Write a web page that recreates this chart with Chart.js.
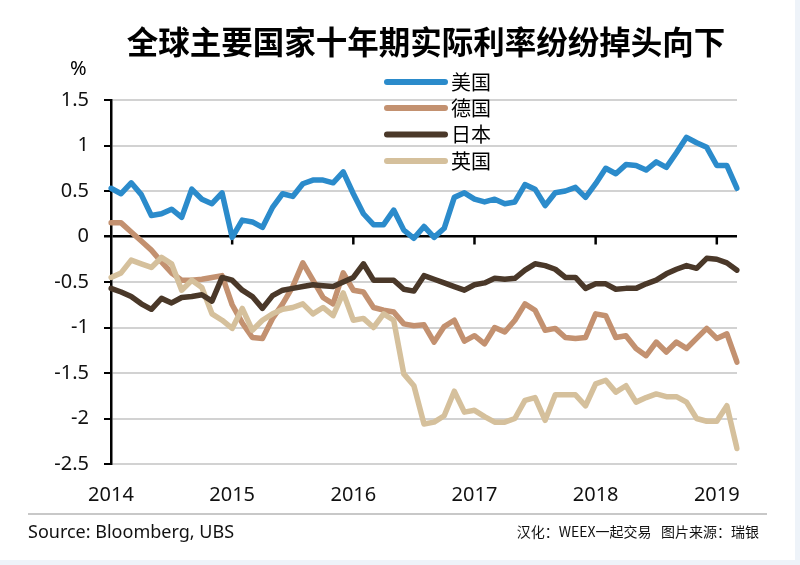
<!DOCTYPE html>
<html>
<head>
<meta charset="utf-8">
<script src="https://cdn.jsdelivr.net/npm/chart.js@4.4.1/dist/chart.umd.min.js"></script>
<style>
  html, body { margin: 0; padding: 0; background: #fff; }
  #wrap { width: 800px; height: 565px; }
</style>
</head>
<body>
<div id="wrap"><canvas id="chart" width="800" height="565"></canvas></div>
<script>
// monthly points, Jan 2014 .. Mar 2019
const years = ["2014", "2015", "2016", "2017", "2018", "2019"];
const seriesNames = ["美国", "德国", "日本", "英国"];

const usa = [0.53, 0.47, 0.59, 0.46, 0.23, 0.25, 0.30, 0.21, 0.52, 0.41, 0.36, 0.48,
  -0.01, 0.18, 0.16, 0.10, 0.32, 0.47, 0.44, 0.58, 0.62, 0.62, 0.59, 0.71,
  0.47, 0.25, 0.13, 0.13, 0.29, 0.07, -0.02, 0.11, -0.01, 0.09, 0.43, 0.48,
  0.41, 0.38, 0.41, 0.36, 0.38, 0.57, 0.52, 0.34, 0.48, 0.50, 0.54, 0.43,
  0.58, 0.75, 0.69, 0.79, 0.78, 0.73, 0.82, 0.76, 0.92, 1.09, 1.03, 0.98,
  0.78, 0.78, 0.53];

const germany = [0.15, 0.15, 0.05, -0.05, -0.15, -0.28, -0.40, -0.48, -0.48, -0.47, -0.45, -0.43,
  -0.75, -0.95, -1.11, -1.12, -0.90, -0.74, -0.55, -0.29, -0.48, -0.67, -0.74, -0.40,
  -0.59, -0.61, -0.78, -0.81, -0.83, -0.96, -0.98, -0.97, -1.16, -0.99, -0.92, -1.15,
  -1.09, -1.18, -1.00, -1.05, -0.92, -0.74, -0.81, -1.03, -1.01, -1.11, -1.12, -1.11,
  -0.85, -0.87, -1.11, -1.09, -1.23, -1.31, -1.16, -1.27, -1.16, -1.23, -1.12, -1.01,
  -1.12, -1.07, -1.38];

const japan = [-0.57, -0.61, -0.66, -0.74, -0.80, -0.68, -0.73, -0.67, -0.66, -0.64, -0.71, -0.45,
  -0.48, -0.59, -0.66, -0.79, -0.65, -0.59, -0.57, -0.55, -0.53, -0.54, -0.55, -0.50,
  -0.45, -0.30, -0.48, -0.48, -0.48, -0.58, -0.60, -0.43, -0.47, -0.51, -0.55, -0.59,
  -0.53, -0.51, -0.46, -0.47, -0.46, -0.37, -0.30, -0.32, -0.36, -0.45, -0.45, -0.57,
  -0.52, -0.52, -0.58, -0.57, -0.57, -0.52, -0.48, -0.41, -0.36, -0.32, -0.35, -0.24,
  -0.25, -0.29, -0.37];

const uk = [-0.45, -0.40, -0.26, -0.30, -0.34, -0.23, -0.30, -0.59, -0.48, -0.56, -0.85, -0.92,
  -1.01, -0.79, -1.03, -0.92, -0.85, -0.80, -0.78, -0.74, -0.85, -0.78, -0.87, -0.62,
  -0.92, -0.90, -1.00, -0.85, -0.92, -1.51, -1.64, -2.06, -2.04, -1.97, -1.70, -1.93,
  -1.91, -1.98, -2.04, -2.04, -2.00, -1.80, -1.77, -2.02, -1.74, -1.74, -1.74, -1.86,
  -1.62, -1.58, -1.71, -1.64, -1.82, -1.77, -1.73, -1.76, -1.76, -1.82, -2.00, -2.03,
  -2.03, -1.86, -2.33];

const colors = ["#2b8bcb", "#c39170", "#4a3829", "#d5c09c"];

const months = [];
for (let i = 0; i < usa.length; i++) {
  months.push(years[Math.floor(i / 12)] + "-" + ((i % 12) + 1));
}

const FONT = '"Noto Sans", "Noto Sans CJK SC", sans-serif';

const decor = {
  id: "decor",
  beforeDraw(chart) {
    const c = chart.ctx;
    c.save();
    c.fillStyle = "#eef3f9";
    c.fillRect(0, 0, chart.width, chart.height);
    c.fillStyle = "#fff";
    c.fillRect(0, 0, 795, 560);
    c.restore();
  },
  beforeDatasetsDraw(chart) {
    // small ticks hanging under the zero line at each year
    const c = chart.ctx;
    const x = chart.scales.x;
    const y0 = chart.scales.y.getPixelForValue(0);
    c.save();
    c.strokeStyle = "#000";
    c.lineWidth = 2.5;
    months.forEach((m, i) => {
      if (i % 12 !== 0 || i === 0) return;
      const px = x.getPixelForValue(i);
      c.beginPath();
      c.moveTo(px, y0);
      c.lineTo(px, y0 + 8);
      c.stroke();
    });
    c.restore();
  },
  afterDraw(chart) {
    const c = chart.ctx;
    c.save();
    c.fillStyle = "#000";
    c.textBaseline = "middle";

    c.font = 'bold 31.5px "Noto Sans CJK SC", sans-serif';
    c.textAlign = "center";
    c.fillText("全球主要国家十年期实际利率纷纷掉头向下", 426, 42);

    c.font = "20px " + FONT;
    c.textAlign = "left";
    c.fillText("%", 70, 69);

    // legend
    const rows = [82, 108, 134.5, 161];
    chart.data.datasets.forEach((ds, i) => {
      c.strokeStyle = ds.borderColor;
      c.lineWidth = 6;
      c.lineCap = "round";
      c.beginPath();
      c.moveTo(387, rows[i]);
      c.lineTo(445, rows[i]);
      c.stroke();
      c.fillStyle = "#000";
      c.font = '20px "Noto Sans CJK SC", sans-serif';
      c.fillText(ds.label, 451, rows[i]);
    });

    // footer
    c.strokeStyle = "#c8c8c8";
    c.lineWidth = 2;
    c.lineCap = "butt";
    c.beginPath();
    c.moveTo(28, 514);
    c.lineTo(767, 514);
    c.stroke();

    c.fillStyle = "#111";
    c.font = "18px " + FONT;
    c.fillText("Source: Bloomberg, UBS", 28, 533);
    c.textAlign = "right";
    c.font = '14px "Noto Sans CJK SC", sans-serif';
    c.fillText("汉化：WEEX一起交易   图片来源：瑞银", 759, 532);
    c.restore();
  }
};

new Chart(document.getElementById("chart"), {
  type: "line",
  data: {
    labels: months,
    datasets: [
      { label: seriesNames[0], data: usa, borderColor: colors[0], order: 1 },
      { label: seriesNames[1], data: germany, borderColor: colors[1], order: 4 },
      { label: seriesNames[2], data: japan, borderColor: colors[2], order: 2 },
      { label: seriesNames[3], data: uk, borderColor: colors[3], order: 3 }
    ].map(d => Object.assign(d, {
      borderWidth: 5.5,
      pointRadius: 0,
      tension: 0,
      fill: false,
      borderJoinStyle: "round",
      borderCapStyle: "round"
    }))
  },
  options: {
    responsive: false,
    animation: false,
    layout: { padding: { left: 0, right: 63, top: 100, bottom: 56 } },
    plugins: { legend: { display: false }, title: { display: false }, tooltip: { enabled: false } },
    scales: {
      x: {
        type: "category",
        offset: false,
        grid: { display: false, drawTicks: false },
        border: { display: false },
        afterFit: s => { s.height = 45; },
        ticks: {
          autoSkip: false,
          maxRotation: 0,
          padding: 19,
          color: "#111",
          font: { family: FONT, size: 20 },
          callback: (v, i) => (i % 12 === 0 ? years[i / 12] : null)
        }
      },
      y: {
        min: -2.5,
        max: 1.5,
        afterFit: s => { s.width = 111; },
        grid: {
          color: ctx => (ctx.tick && ctx.tick.value === 0 ? "#000" : "#d2d2d2"),
          lineWidth: ctx => (ctx.tick && ctx.tick.value === 0 ? 2.5 : 2),
          tickColor: "#000",
          tickLength: 7
        },
        border: { display: true, color: "#000", width: 2.5 },
        ticks: {
          stepSize: 0.5,
          padding: 15,
          color: "#111",
          font: { family: FONT, size: 20 },
          callback: v => String(v)
        }
      }
    }
  },
  plugins: [decor]
});
</script>
</body>
</html>
